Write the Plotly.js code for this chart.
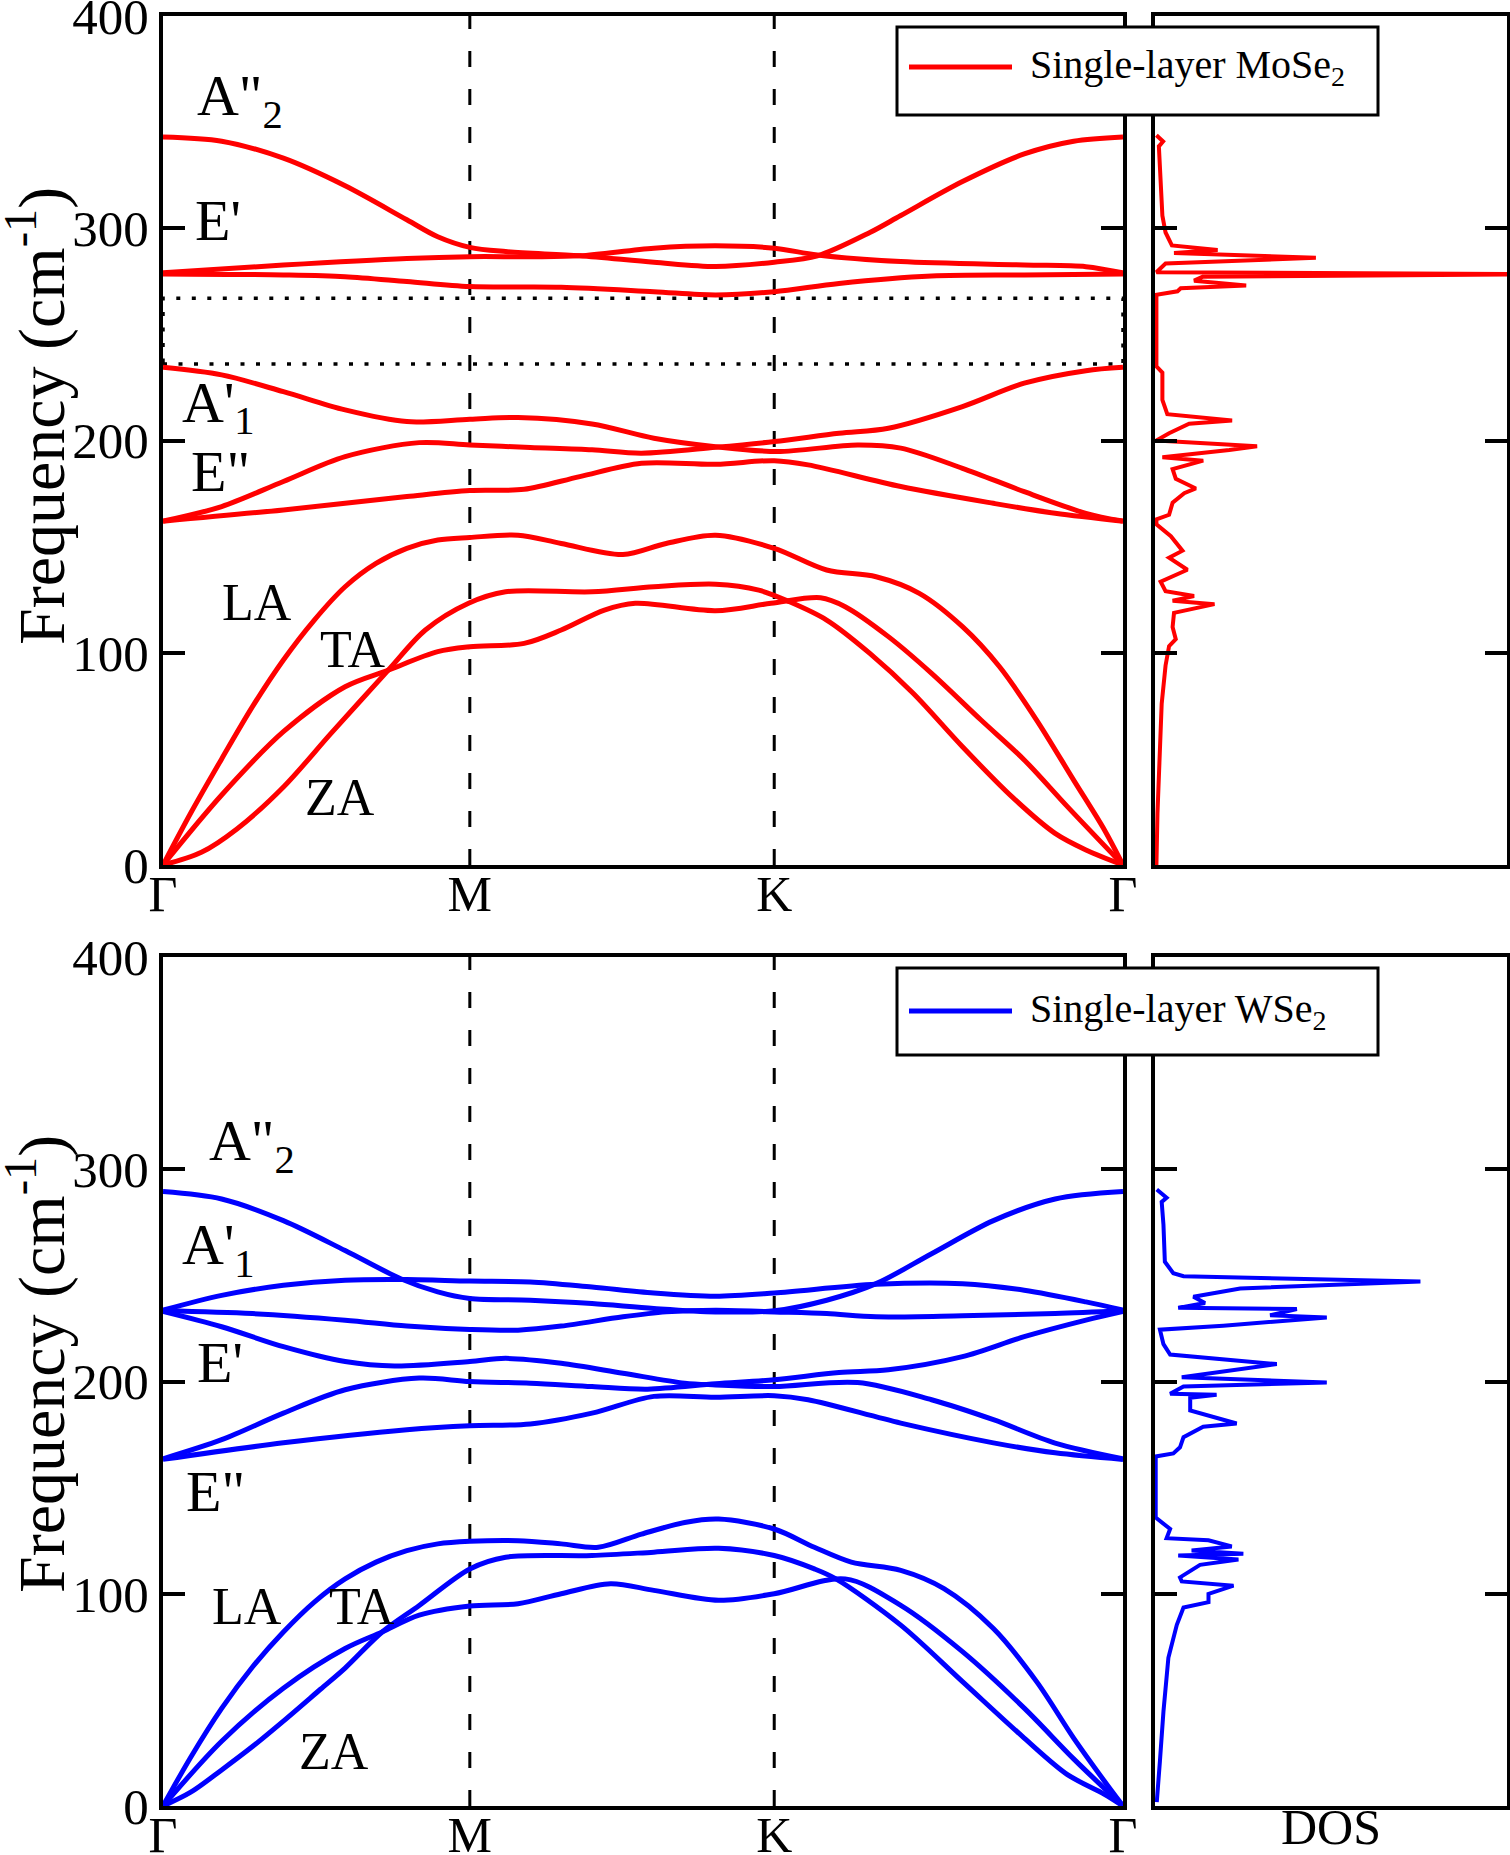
<!DOCTYPE html>
<html><head><meta charset="utf-8">
<script src="https://cdn.plot.ly/plotly-3.0.1.min.js"></script>
<style>html,body{margin:0;padding:0;background:#fff}#plot{width:1510px;height:1855px}</style>
</head><body><div id="plot"></div>
<script>
// ---- high-symmetry path ----
const kPos = [0, 0.3196, 0.6367, 1];
const kLabels = ['Γ', 'M', 'K', 'Γ'];
const freqTicks = [0, 100, 200, 300, 400];
const gapEdges = [236, 267];

// ---- single-layer MoSe2 phonon bands (path fraction, cm^-1) ----
const mo1x = [0,0.0611,0.1254,0.1897,0.2540,0.2862,0.3196,0.3569,0.4341,0.5113,0.5756,0.6367,0.6817,0.7363,0.7685,0.8328,0.8971,0.9486,1];
const mo1y = [343,341,333,320,304,296,291,289,287,284,282,284,287,298,306,322,335,341,343];
const mo2x = [0,0.1254,0.2540,0.3196,0.3826,0.4341,0.5113,0.5756,0.6367,0.6817,0.7685,0.8971,0.9614,1];
const mo2y = [279,282.7,285.8,286.6,286.6,287,290.6,291.7,290.6,287.4,284.3,282.7,281.9,279];
const mo3x = [0,0.1254,0.1897,0.2540,0.3196,0.4148,0.5113,0.5756,0.6367,0.7042,0.8006,0.8971,1];
const mo3y = [278.5,278,277.2,274.9,272.5,272.2,270.1,268.6,270.1,274,277.5,278,278.5];
const mo4x = [0,0.0611,0.1254,0.1897,0.2540,0.3196,0.3698,0.4469,0.5113,0.5756,0.6399,0.7235,0.7685,0.8328,0.8971,0.9614,1];
const mo4y = [234.5,230.9,223,214.4,208.9,210,210.8,207.8,201.1,197.1,194.8,197.9,196.4,186.9,175.9,165.7,162];
const mo5x = [0,0.0611,0.1254,0.1897,0.2669,0.3196,0.3826,0.4469,0.4984,0.5756,0.6367,0.7042,0.7556,0.8328,0.8971,0.9614,1];
const mo5y = [162,168.9,180.7,192.4,199,197.9,196.7,195.6,194,196.8,199.5,203.4,205.8,216,227,232.9,234.5];
const mo6x = [0,0.1254,0.2540,0.3196,0.3762,0.4341,0.4984,0.5756,0.6367,0.6720,0.7685,0.8650,0.9293,1];
const mo6y = [162,167.3,173.6,176.4,177,183,189.3,188.8,190.5,188.5,178.3,170.4,165.7,162];
const moLAx = [0,0.0289,0.0611,0.0932,0.1254,0.1576,0.1897,0.2219,0.2540,0.2862,0.3196,0.3698,0.4148,0.4791,0.5241,0.5756,0.6367,0.6913,0.7428,0.7878,0.8328,0.8714,0.9100,0.9486,0.9807,1];
const moLAy = [0,24.5,50,74.6,96.6,115.4,131.1,142.1,149.2,153.1,154.3,155.4,151.5,146.3,151.5,155.4,149.2,139,135.8,128,112.3,93.4,68.3,40,16.5,0];
const moTAx = [0,0.0611,0.1254,0.1897,0.2347,0.2862,0.3196,0.3762,0.4148,0.4598,0.4920,0.5756,0.6334,0.6849,0.7106,0.7556,0.8006,0.8521,0.8971,0.9421,1];
const moTAy = [0,33,62.8,84,91.8,100.5,102.8,104.4,110.7,120.1,123.3,119.8,123.3,125.9,121.7,107.6,90.3,68.3,49.5,27.5,0];
const moZAx = [0,0.04,0.077,0.126,0.175,0.2347,0.2733,0.3183,0.3569,0.4469,0.5113,0.5756,0.6206,0.6527,0.6913,0.7363,0.7814,0.8328,0.8842,0.9293,0.9614,1];
const moZAy = [0,6,17,37,62,91.8,110.7,123.3,128.7,128.7,131.1,132.3,129.5,124,115.4,99.7,80.9,55.7,32.2,14.9,7.1,0];

// ---- single-layer WSe2 phonon bands ----
const w1x = [0,0.0611,0.1254,0.1897,0.2476,0.2862,0.3196,0.3826,0.4469,0.5113,0.5756,0.6367,0.6913,0.7428,0.8006,0.8650,0.9293,1];
const w1y = [289.5,286,275.8,261.7,248.4,242.2,239.1,238.3,236.7,234.4,232.8,233.3,238.3,246.1,260.2,275.8,286,289.5];
const w2x = [0,0.0611,0.1254,0.1897,0.2540,0.3196,0.3826,0.4469,0.5113,0.5756,0.6367,0.7428,0.8328,0.8971,0.9614,1];
const w2y = [233.6,240.6,245.3,247.7,248,247.3,246.9,244.5,241.7,240.2,241.7,245.8,246.1,243,237.5,233.6];
const w3x = [0,0.0932,0.1897,0.2540,0.3196,0.3698,0.4148,0.4791,0.5241,0.5756,0.6367,0.6913,0.7428,0.8328,0.9293,1];
const w3y = [233.3,232,228.9,226.1,224.5,224.2,226.1,230.5,232.8,233.6,232.8,232,230.5,231,232,233.3];
const w4x = [0,0.0611,0.1254,0.1897,0.2412,0.3196,0.3569,0.4148,0.4791,0.5434,0.5756,0.6367,0.7235,0.8006,0.8650,0.9293,1];
const w4y = [233,225.8,216.4,209.4,207.3,209.4,210.9,208.6,203.9,199.2,198.4,197.6,199.5,191.4,182,171,163.6];
const w5x = [0,0.0611,0.1254,0.1897,0.2669,0.3196,0.3826,0.4469,0.5048,0.5756,0.6367,0.7042,0.7556,0.8328,0.8971,0.9614,1];
const w5y = [163.6,172.6,185.1,196.1,201.6,200,199.2,197.6,196.4,198.9,200.8,204.2,205.5,211.7,221.1,228.9,233];
const w6x = [0,0.1254,0.2540,0.3196,0.3826,0.4469,0.5113,0.5756,0.6367,0.6720,0.7685,0.8650,0.9293,1];
const w6y = [163.3,171.1,177.3,179.2,180,185.1,193,192.6,193.3,191.4,180.4,171.1,166.4,163.3];
const wLAx = [0,0.0289,0.0611,0.0932,0.1254,0.1576,0.1897,0.2219,0.2540,0.2862,0.3196,0.3698,0.4148,0.4534,0.4984,0.5434,0.5788,0.6367,0.6785,0.7170,0.7685,0.8135,0.8650,0.9100,0.9486,0.9807,1];
const wLAy = [0,23,46,65.5,82,96.1,107,114.9,120.3,123.5,124.7,125,123.5,121.9,128.1,133.6,135.2,130.5,121.9,114.9,111,102.4,83.6,58.6,32,11.7,0];
const wTAx = [0,0.0611,0.1254,0.1897,0.2283,0.2669,0.3196,0.3698,0.4148,0.4662,0.5113,0.5788,0.6367,0.7106,0.7685,0.8328,0.8971,0.9486,1];
const wTAy = [0,30.5,55.5,74.2,82,89.9,94.2,95.3,100,104.7,101.6,96.9,100,107,94.5,72.7,46.1,22.2,0];
const wZAx = [0,0.0289,0.0611,0.0932,0.1254,0.1640,0.1897,0.2283,0.2669,0.3196,0.3569,0.4469,0.5113,0.5788,0.6367,0.6785,0.7010,0.7685,0.8328,0.8971,0.9421,0.9807,1];
const wZAy = [0,6.5,17,28,40,55,65,82,94.5,111.7,117.2,118,119.6,121.4,118,111.7,107,85.2,58.6,32,14.8,5.5,0];

// ---- phonon DOS (arb. units, cm^-1) ----
const moDosX = [0.004,0.023,0.011,0.016,0.021,0.030,0.048,0.178,0.054,0.457,0.030,0.004,1.1,0.135,0.111,0.259,0.073,0.064,0.004,0.004,0.021,0.021,0.035,0.219,0.097,0.040,0.004,0.290,0.211,0.021,0.137,0.050,0.059,0.116,0.083,0.050,0.040,0.004,0.004,0.045,0.078,0.040,0.092,0.016,0.030,0.111,0.050,0.169,0.054,0.050,0.059,0.040,0.030,0.019,0.011,0.007,0.004];
const moDosF = [343.8,340.9,338.6,317.2,305.9,298,291.9,289.7,288.3,286.1,283.4,279.3,278.4,277.1,275.3,273,271.7,270.3,268.7,234.9,232,219.1,212.4,209.4,207.9,203.4,200,197.3,195.5,192.1,190.5,186.5,182,177.4,175.2,170.7,165,162.8,160.5,154.9,148.1,144.8,139.1,133.5,129,126.7,124.5,122.9,118.8,112.1,106.4,103.1,94,76,46.7,24.2,0];
const wDosX = [0.005,0.033,0.019,0.024,0.028,0.052,0.081,0.754,0.242,0.109,0.142,0.066,0.403,0.327,0.488,0.194,0.014,0.024,0.043,0.346,0.076,0.488,0.081,0.043,0.175,0.100,0.100,0.232,0.137,0.081,0.071,0.052,0.002,0.002,0.043,0.033,0.152,0.218,0.104,0.251,0.066,0.237,0.128,0.071,0.076,0.223,0.152,0.152,0.081,0.062,0.038,0.024,0.014,0.005];
const wDosF = [290.5,286.6,284.6,273.9,256.4,251,249.6,247.1,243.8,239.9,237,234.7,234.1,231.2,230.2,226.3,224.4,217.6,212.7,208.2,202,199.5,197.7,194.2,193.8,192.3,186.4,180.2,178.7,173.8,169,166.1,164.7,135.9,130.5,126.2,125.2,122.3,120.4,118.8,118,116.1,113.6,107.7,105.8,103.8,99.9,96,93.5,85.4,69.8,44.5,21.2,1.8];

// ---- mode labels ----
const moLabelText = ['A"<sub>2</sub>', "E'", "A'<sub>1</sub>", 'E"', 'LA', 'TA', 'ZA'];
const moLabelX = [0.0354, 0.0333, 0.0198, 0.0292, 0.0615, 0.1635, 0.148];
const moLabelY = [360, 301.5, 215.5, 183, 121.5, 99.5, 29.5];
const wLabelText = ['A"<sub>2</sub>', "A'<sub>1</sub>", "E'", 'E"', 'LA', 'TA', 'ZA'];
const wLabelX = [0.0479, 0.0198, 0.0354, 0.024, 0.051, 0.173, 0.1417];
const wLabelY = [311, 262, 206.5, 146, 92, 92, 23.5];
const labelSizes = [58, 58, 58, 58, 52, 52, 52];

// ---- page geometry ----
const W = 1510, H = 1855;
const px = v => v / W;
const py = v => 1 - v / H;
const FONT = 'Liberation Serif, Times New Roman, serif';
const RED = '#ff0000', BLUE = '#0000ff';

const traces = [];
function bands(list, xa, ya, color) {
  list.forEach(b => traces.push({
    x: b[0], y: b[1], xaxis: xa, yaxis: ya, type: 'scatter', mode: 'lines',
    line: {color: color, width: 5, shape: 'spline', smoothing: 0.9},
    showlegend: false, hoverinfo: 'skip'
  }));
}
bands([[mo1x,mo1y],[mo2x,mo2y],[mo3x,mo3y],[mo4x,mo4y],[mo5x,mo5y],[mo6x,mo6y],[moLAx,moLAy],[moTAx,moTAy],[moZAx,moZAy]], 'x', 'y', RED);
bands([[w1x,w1y],[w2x,w2y],[w3x,w3y],[w4x,w4y],[w5x,w5y],[w6x,w6y],[wLAx,wLAy],[wTAx,wTAy],[wZAx,wZAy]], 'x3', 'y3', BLUE);
traces.push({x: moDosX, y: moDosF, xaxis: 'x2', yaxis: 'y2', type: 'scatter', mode: 'lines',
  line: {color: RED, width: 4}, showlegend: false, hoverinfo: 'skip'});
traces.push({x: wDosX, y: wDosF, xaxis: 'x4', yaxis: 'y4', type: 'scatter', mode: 'lines',
  line: {color: BLUE, width: 4}, showlegend: false, hoverinfo: 'skip'});
function labels(t, x, y, xa, ya) {
  traces.push({x: x, y: y, text: t, xaxis: xa, yaxis: ya, type: 'scatter', mode: 'text',
    textposition: 'middle right', cliponaxis: false,
    textfont: {family: FONT, size: labelSizes, color: '#000'}, showlegend: false, hoverinfo: 'skip'});
}
labels(moLabelText, moLabelX, moLabelY, 'x', 'y');
labels(wLabelText, wLabelX, wLabelY, 'x3', 'y3');

const topDom = [py(865), py(16)];
const botDom = [py(1806), py(957)];
const mainX = [px(163), px(1123)];
const dosX = [px(1155), px(1507)];

function kAxis(anchor) {
  return {domain: mainX, anchor: anchor, range: [0, 1], tickvals: kPos, ticktext: kLabels,
    ticks: '', showline: true, linewidth: 4, linecolor: '#000', mirror: true,
    showgrid: false, zeroline: false, automargin: false, ticklabelstandoff: -18,
    ticklabeloverflow: 'allow',
    tickfont: {family: FONT, size: 50, color: '#000'}};
}
function fAxis(anchor, dom, labels) {
  return {domain: dom, anchor: anchor, range: [0, 400], tickvals: freqTicks,
    ticks: 'inside', ticklen: 22, tickwidth: 4, tickcolor: '#000',
    showline: true, linewidth: 4, linecolor: '#000', mirror: 'ticks',
    showgrid: false, zeroline: false, automargin: false, showticklabels: labels,
    ticklabeloverflow: 'allow',
    tickfont: {family: FONT, size: 51, color: '#000'}};
}
function dAxis(anchor, dom, title) {
  const a = {domain: dosX, anchor: anchor, range: [0, 1], showticklabels: false, ticks: '',
    showline: true, linewidth: 4, linecolor: '#000', mirror: true,
    showgrid: false, zeroline: false, automargin: false};
  if (title) a.title = {text: 'DOS', font: {family: FONT, size: 50, color: '#000'}, standoff: 4};
  return a;
}

const shapes = [];
[['x','y'],['x3','y3']].forEach(([xa, ya]) => {
  [kPos[1], kPos[2]].forEach(k => shapes.push({type: 'line', xref: xa, yref: ya, x0: k, x1: k, y0: 0, y1: 400,
    line: {color: '#000', width: 3, dash: '16px,22px'}, layer: 'below'}));
});
shapes.push({type: 'rect', xref: 'x', yref: 'y', x0: 0, x1: 1, y0: gapEdges[0], y1: gapEdges[1],
  line: {color: '#000', width: 3.5, dash: '4px,11.5px'}, layer: 'below'});

// legend boxes
function legendBox(y0, y1, ly, color) {
  shapes.push({type: 'rect', xref: 'paper', yref: 'paper', x0: px(897), x1: px(1378), y0: py(y1), y1: py(y0),
    fillcolor: '#fff', line: {color: '#000', width: 3}, layer: 'above'});
  shapes.push({type: 'line', xref: 'paper', yref: 'paper', x0: px(909), x1: px(1012), y0: py(ly), y1: py(ly),
    line: {color: color, width: 5}, layer: 'above'});
}
legendBox(27, 115, 67, RED);
legendBox(968, 1055, 1011, BLUE);

const annotations = [];
function lab(text, x, y, size, angle, anchor) {
  annotations.push({text: text, xref: 'paper', yref: 'paper', x: x, y: y, xanchor: anchor, yanchor: 'middle',
    textangle: angle, showarrow: false, font: {family: FONT, size: size, color: '#000'}});
}
lab('Single-layer MoSe<sub>2</sub>', px(1028), py(67), 40, 0, 'left');
lab('Single-layer WSe<sub>2</sub>', px(1028), py(1011), 40, 0, 'left');
lab('Frequency (cm<sup>-1</sup>)', px(37), py(416), 66, -90, 'center');
lab('Frequency (cm<sup>-1</sup>)', px(37), py(1364), 66, -90, 'center');

const layout = {
  width: W, height: H, margin: {l: 0, r: 0, t: 0, b: 0},
  paper_bgcolor: '#fff', plot_bgcolor: '#fff',
  font: {family: FONT, color: '#000', size: 40},
  showlegend: false,
  xaxis: kAxis('y'), yaxis: fAxis('x', topDom, true),
  xaxis2: dAxis('y2', topDom, false), yaxis2: fAxis('x2', topDom, false),
  xaxis3: kAxis('y3'), yaxis3: fAxis('x3', botDom, true),
  xaxis4: dAxis('y4', botDom, true), yaxis4: fAxis('x4', botDom, false),
  shapes: shapes, annotations: annotations
};
Plotly.newPlot('plot', traces, layout, {staticPlot: true, displayModeBar: false});
</script></body></html>
